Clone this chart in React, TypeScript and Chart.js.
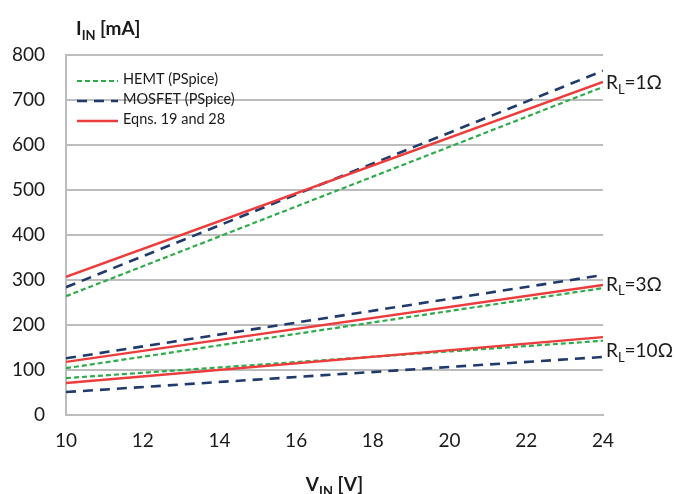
import React, { useEffect, useRef } from 'react';
import { Chart, registerables } from 'chart.js';
Chart.register(...registerables);

// ---- data ----
const VIN = [10, 24];
const HEMT_1 = [264, 729];
const MOSFET_1 = [284, 765];
const EQN_1 = [307, 740];
const HEMT_3 = [104, 282];
const MOSFET_3 = [126, 311];
const EQN_3 = [118, 289];
const HEMT_10 = [82, 165];
const MOSFET_10 = [51, 129];
const EQN_10 = [71, 173];
const SERIES_NAMES = ['HEMT (PSpice)', 'MOSFET (PSpice)', 'Eqns. 19 and 28'];
const LOAD_LABELS = ['1Ω', '3Ω', '10Ω'];
const LOAD_LABEL_Y = [740, 292, 145];
const X_TITLE = ['V', 'IN', ' [V]'];
const Y_TITLE = ['I', 'IN', ' [mA]'];

const FONT = 'Lato, "Open Sans", sans-serif';
const STYLES = [
  { color: '#2fab4b', dash: [5, 3], width: 2.2 },
  { color: '#1f3a6b', dash: [10, 7], width: 2.6 },
  { color: '#ee3b3b', dash: [] as number[], width: 2.4 },
];

const toPts = (ys: number[]) => ys.map((y, i) => ({ x: VIN[i], y }));

function subText(ctx: CanvasRenderingContext2D, x: number, y: number, parts: string[], size: number, bold: boolean, align: 'left' | 'center') {
  const w = bold ? 'bold ' : '';
  const mainF = `${w}${size}px ${FONT}`;
  const subF = `${w}${Math.round(size * 0.66)}px ${FONT}`;
  ctx.font = mainF;
  const w0 = ctx.measureText(parts[0]).width;
  const w2 = ctx.measureText(parts[2]).width;
  ctx.font = subF;
  const w1 = ctx.measureText(parts[1]).width;
  const total = w0 + w1 + w2;
  let cx = align === 'center' ? x - total / 2 : x;
  ctx.textAlign = 'left';
  ctx.textBaseline = 'alphabetic';
  ctx.font = mainF;
  ctx.fillText(parts[0], cx, y);
  cx += w0;
  ctx.font = subF;
  ctx.fillText(parts[1], cx, y + size * 0.25);
  cx += w1;
  ctx.font = mainF;
  ctx.fillText(parts[2], cx, y);
}

const decor = {
  id: 'decor',
  afterDraw(chart: any) {
    const ctx = chart.ctx as CanvasRenderingContext2D;
    const ys = chart.scales.y;
    const xs = chart.scales.x;
    ctx.save();
    ctx.fillStyle = '#1a1a1a';
    // axis titles
    subText(ctx, 76, 35, Y_TITLE, 19, true, 'left');
    subText(ctx, (xs.left + xs.right) / 2, 491, X_TITLE, 19, true, 'center');
    // load annotations
    LOAD_LABELS.forEach((lab, i) => {
      const py = ys.getPixelForValue(LOAD_LABEL_Y[i]) + 7;
      subText(ctx, xs.right + 3, py, ['R', 'L', '=' + lab], 19, false, 'left');
    });
    // legend
    SERIES_NAMES.forEach((name, i) => {
      const st = STYLES[i];
      const yy = 81 + i * 20;
      ctx.beginPath();
      ctx.strokeStyle = st.color;
      ctx.lineWidth = st.width;
      ctx.setLineDash(st.dash);
      ctx.moveTo(77, yy);
      ctx.lineTo(118, yy);
      ctx.stroke();
      ctx.setLineDash([]);
      ctx.font = `14.5px ${FONT}`;
      ctx.textBaseline = 'middle';
      ctx.textAlign = 'left';
      ctx.fillStyle = '#1a1a1a';
      ctx.fillText(name, 123, yy - 2);
    });
    ctx.restore();
  },
};

export default function App() {
  const ref = useRef<HTMLCanvasElement>(null);
  useEffect(() => {
    const groups = [
      [HEMT_1, MOSFET_1, EQN_1],
      [HEMT_3, MOSFET_3, EQN_3],
      [HEMT_10, MOSFET_10, EQN_10],
    ];
    const datasets: any[] = [];
    groups.forEach((g, gi) => {
      g.forEach((vals, si) => {
        const st = STYLES[si];
        datasets.push({
          label: SERIES_NAMES[si] + ' ' + LOAD_LABELS[gi],
          data: toPts(vals),
          borderColor: st.color,
          borderWidth: st.width,
          borderDash: st.dash,
          pointRadius: 0,
          fill: false,
          tension: 0,
          order: si === 2 ? 0 : 1,
        });
      });
    });
    const chart = new Chart(ref.current!, {
      type: 'line',
      data: { datasets },
      plugins: [decor],
      options: {
        responsive: false,
        animation: false,
        layout: { padding: { top: 55, right: 73, left: 0, bottom: 0 } },
        plugins: { legend: { display: false }, tooltip: { enabled: false } },
        scales: {
          x: {
            type: 'linear',
            min: 10,
            max: 24,
            afterFit: (s: any) => { s.height = 79; },
            ticks: { stepSize: 2, padding: 14, color: '#1a1a1a', font: { family: FONT, size: 19 } },
            grid: { display: false, drawTicks: false },
            border: { display: true, color: '#bdbdbd', width: 2 },
          },
          y: {
            min: 0,
            max: 800,
            afterFit: (s: any) => { s.width = 66; },
            ticks: { stepSize: 100, padding: 21, color: '#1a1a1a', font: { family: FONT, size: 19 } },
            grid: { color: '#bdbdbd', lineWidth: 2, drawTicks: false },
            border: { display: true, color: '#bdbdbd', width: 2 },
          },
        },
      },
    });
    return () => chart.destroy();
  }, []);
  return (
    <div style={{ position: 'fixed', left: 0, top: 0, width: 676, height: 494, background: '#fff' }}>
      <canvas ref={ref} width={676} height={494} style={{ display: 'block' }} />
    </div>
  );
}
